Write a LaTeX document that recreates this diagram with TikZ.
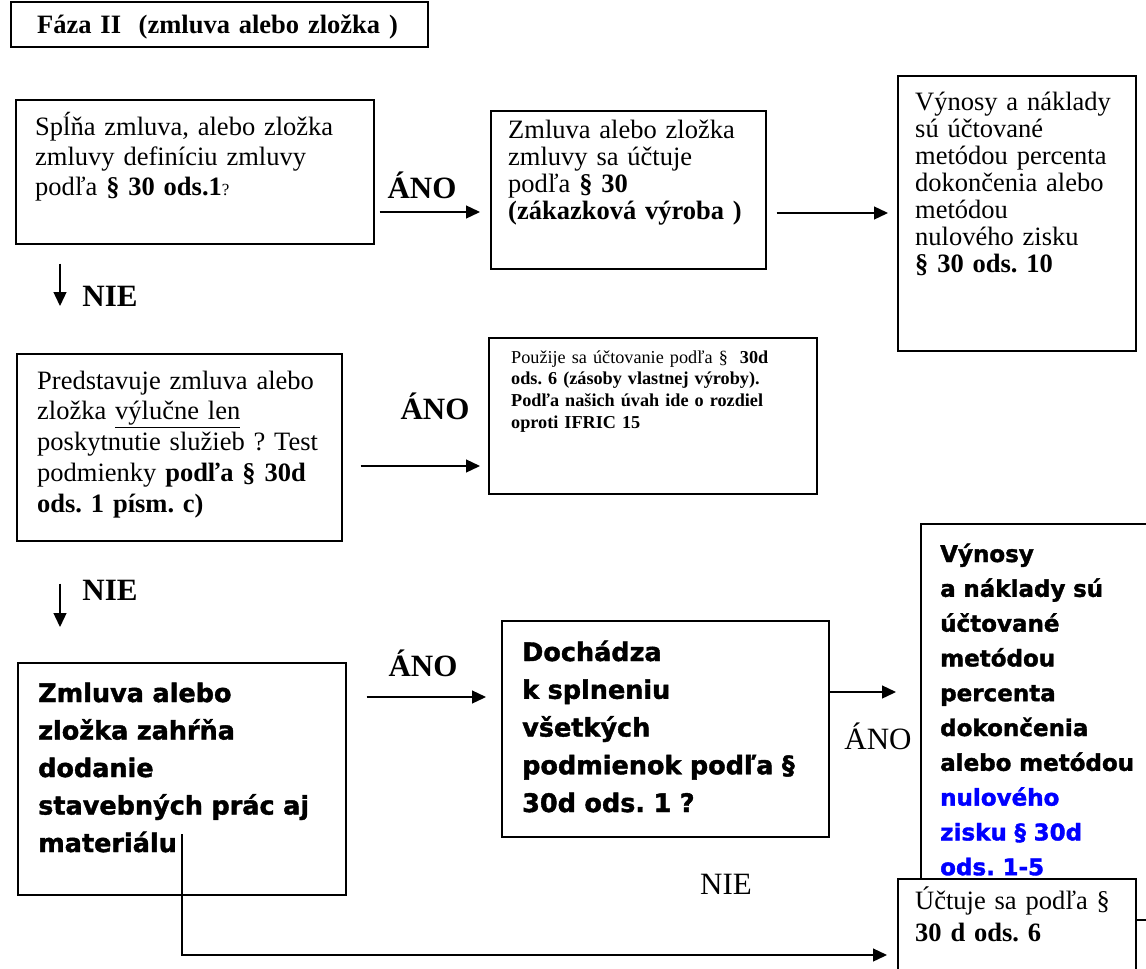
\documentclass[tikz,border=0pt]{standalone}
\usepackage{fontspec}
\setmainfont{Liberation Serif}
\newfontfamily\heavyfont{DejaVu Sans Bold}[FakeBold=1.6]
\usetikzlibrary{arrows.meta}
\frenchspacing

\tikzset{
  box/.style={draw, line width=1.5pt, anchor=north west, inner sep=0pt},
  txt/.style={anchor=base west, inner sep=0pt, align=left, text width=#1},
  arr/.style={-{Triangle[length=14pt,width=13pt]}, line width=1.3pt},
  lbl/.style={inner sep=0pt, font=\fontsize{31}{34}\selectfont\bfseries},
  lblreg/.style={inner sep=0pt, font=\fontsize{31}{34}\selectfont}
}
\newcommand\serifA[1]{\fontsize{26.5}{#1}\selectfont}
\newcommand\heavyA[2]{\heavyfont\fontsize{#1}{#2}\selectfont}

\begin{document}
\begin{tikzpicture}[x=1pt, y=-1pt]
  \useasboundingbox (0,0) rectangle (1146,969);
  \clip (0,0) rectangle (1146,969);

  % Header
  \node[box, minimum width=417pt, minimum height=45pt] (faza) at (10,1) {};
  \node[txt=400pt, font=\serifA{30}\bfseries] (fazat) at ([shift={(27,33)}]faza.north west)
    {Fáza II\ \ (zmluva alebo zložka )};

  % First row
  \node[box, minimum width=358pt, minimum height=144pt] (splna) at (15,99) {};
  \node[txt=335pt, font=\serifA{30}] (splnat) at ([shift={(20,36)}]splna.north west)
    {Spĺňa zmluva, alebo zložka\\ zmluvy definíciu zmluvy\\
     podľa \textbf{§ 30 ods.1}{\fontsize{17}{20}\selectfont ?}};

  \node[box, minimum width=275pt, minimum height=158pt] (zakaz) at (490,110) {};
  \node[txt=255pt, font=\serifA{27}] (zakazt) at ([shift={(18,28)}]zakaz.north west)
    {Zmluva alebo zložka\\ zmluvy sa účtuje\\ podľa \textbf{§ 30}\\ \textbf{(zákazková výroba )}};

  \node[box, minimum width=238pt, minimum height=275pt] (vynos) at (897,75) {};
  \node[txt=218pt, font=\serifA{27}] (vynost) at ([shift={(18,35)}]vynos.north west)
    {Výnosy a náklady\\ sú účtované\\ metódou percenta\\ dokončenia alebo\\ metódou\\
     nulového zisku\\ \textbf{§ 30 ods. 10}};

  % Second row
  \node[box, minimum width=325pt, minimum height=187pt] (sluzby) at (16,353) {};
  \node[txt=300pt, font=\serifA{30.8}] (sluzbyt) at ([shift={(21,36)}]sluzby.north west)
    {Predstavuje zmluva alebo\\ zložka \underline{výlučne len}\\ poskytnutie služieb ? Test\\
     podmienky \textbf{podľa § 30d}\\ \textbf{ods. 1 písm. c)}};

  \node[box, minimum width=328pt, minimum height=156pt] (zasoby) at (488,337) {};
  \node[txt=300pt, font=\fontsize{18.2}{21.7}\selectfont] (zasobyt) at ([shift={(23,26)}]zasoby.north west)
    {Použije sa účtovanie podľa §\ \ \textbf{30d}\\ \textbf{ods. 6 (zásoby vlastnej výroby).}\\
     \textbf{Podľa našich úvah ide o rozdiel}\\ \textbf{oproti IFRIC 15}};

  % Third row
  \node[box, minimum width=328pt, minimum height=232pt] (stavba) at (17,662) {};
  \node[txt=305pt, font=\heavyA{25.5}{37.5}] (stavbat) at ([shift={(21,40)}]stavba.north west)
    {Zmluva alebo\\ zložka zahŕňa\\ dodanie\\ stavebných prác aj\\ materiálu};

  \node[box, minimum width=327pt, minimum height=216pt] (podm) at (501,620) {};
  \node[txt=305pt, font=\heavyA{25.5}{37.75}] (podmt) at ([shift={(21,41)}]podm.north west)
    {Dochádza\\ k splneniu\\ všetkých\\ podmienok podľa §\\ 30d ods. 1 ?};

  \node[box, minimum width=260pt, minimum height=500pt] (nulzisk) at (920,523) {};
  \node[txt=230pt, font=\heavyA{23}{34.8}] (nulziskt) at ([shift={(20,39)}]nulzisk.north west)
    {Výnosy\\ a náklady sú\\ účtované\\ metódou\\ percenta\\ dokončenia\\ alebo metódou\\
     \color{blue}nulového\\ zisku § 30d\\ ods. 1-5};

  \node[box, fill=white, minimum width=238pt, minimum height=120pt] (ucty) at (897,878) {};
  \node[txt=220pt, font=\serifA{32}] (uctyt) at ([shift={(18,31)}]ucty.north west)
    {Účtuje sa podľa §\\ \textbf{30 d ods. 6}};

  % Arrows
  \draw[arr, shorten <=5pt, shorten >=10pt] (splna.east |- 0,212) -- (zakaz.west |- 0,212);
  \draw[arr, shorten <=10pt, shorten >=9pt] (zakaz.east |- 0,213) -- (vynos.west |- 0,213);
  \draw[arr, shorten <=19pt, shorten >=47pt] (splna.south -| 60,0) -- (sluzby.north -| 60,0);
  \draw[arr, shorten <=18pt, shorten >=8pt] (sluzby.east |- 0,466) -- (zasoby.west |- 0,466);
  \draw[arr, shorten <=42pt, shorten >=35pt] (sluzby.south -| 60,0) -- (stavba.north -| 60,0);
  \draw[arr, shorten <=20pt, shorten >=15pt] (stavba.east |- 0,697) -- (podm.west |- 0,697);
  \draw[arr, shorten >=24pt] (podm.east |- 0,692) -- (nulzisk.west |- 0,692);

  \coordinate (matend) at (182,834);
  \draw[arr, shorten >=10pt] (matend) |- (ucty.west |- 0,955);
  \coordinate (stub) at (1146,920);
  \draw[line width=1.3pt] (ucty.east |- stub) -- (stub);

  % Labels
  \node[lbl] (ano1) at (422,185) {ÁNO};
  \node[lbl] (nie1) at (110,296) {NIE};
  \node[lbl] (ano2) at (435,406) {ÁNO};
  \node[lbl] (nie2) at (110,590) {NIE};
  \node[lbl] (ano3) at (423,663) {ÁNO};
  \node[lblreg] (ano4) at (878,736) {ÁNO};
  \node[lblreg] (nie3) at (726,884) {NIE};
\end{tikzpicture}
\end{document}
